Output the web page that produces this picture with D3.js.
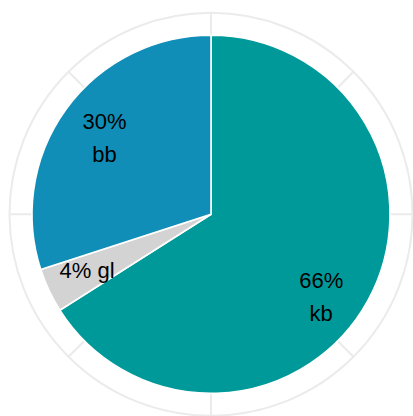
<!DOCTYPE html>
<html>
<head>
<meta charset="utf-8">
<script src="https://cdn.jsdelivr.net/npm/d3@7"></script>
<style>
  html, body { margin: 0; padding: 0; background: #ffffff; }
  svg { display: block; }
</style>
</head>
<body>
<svg id="chart" width="413" height="416"></svg>
<script>
// Data
const categories = ["kb", "gl", "bb"];
const shares = [66, 4, 30];
const colors = ["#009999", "#D3D3D3", "#108EB8"];
const gridBreaks = [0, 12.5, 25, 37.5, 50, 62.5, 75, 87.5]; // theta grid (percent)

const W = 413, H = 416;
const cx = 211, cy = 214.3;
const R = 179;
const gridR = 201.5;

const svg = d3.select("#chart");
const g = svg.append("g").attr("transform", `translate(${cx},${cy})`);

// angle scale for grid (percent -> radians)
const theta = d3.scaleLinear().domain([0, 100]).range([0, 2 * Math.PI]);

// grid: outer circle
g.append("circle")
  .attr("r", gridR)
  .attr("fill", "none")
  .attr("stroke", "#EBEBEB")
  .attr("stroke-width", 2);

// radial grid lines
g.selectAll("line.grid")
  .data(gridBreaks)
  .join("line")
  .attr("class", "grid")
  .attr("x1", 0).attr("y1", 0)
  .attr("x2", d => gridR * Math.sin(theta(d)))
  .attr("y2", d => -gridR * Math.cos(theta(d)))
  .attr("stroke", "#EBEBEB")
  .attr("stroke-width", 2);

// pie
const data = categories.map((c, i) => ({ cat: c, value: shares[i], color: colors[i] }));
const pie = d3.pie().value(d => d.value).sort(null);
const arcs = pie(data);
const arc = d3.arc().innerRadius(0).outerRadius(R);

g.selectAll("path.slice")
  .data(arcs)
  .join("path")
  .attr("class", "slice")
  .attr("d", arc)
  .attr("fill", d => d.data.color)
  .attr("stroke", "#ffffff")
  .attr("stroke-width", 1.6)
  .attr("stroke-linejoin", "miter");

// labels
const labelLayout = {  // label radius and angle nudge (degrees)
  kb: { r: 138, nudge: 8.2, twoLine: true },
  gl: { r: 136, nudge: 0.9, twoLine: false },
  bb: { r: 131, nudge: -0.4, twoLine: true }
};
const fontSize = 22;
const lineGap = 33;

arcs.forEach(a => {
  const L = labelLayout[a.data.cat];
  const mid = (a.startAngle + a.endAngle) / 2 + L.nudge * Math.PI / 180;
  const x = L.r * Math.sin(mid);
  const y = -L.r * Math.cos(mid);
  const pct = Math.round(a.data.value) + "%";
  const t = g.append("text")
    .attr("text-anchor", "middle")
    .attr("font-family", "'Liberation Sans', Arial, sans-serif")
    .attr("font-size", fontSize)
    .attr("fill", "#000000");
  if (L.twoLine) {
    t.append("tspan").attr("x", x).attr("y", y - lineGap / 2 + 7.5).text(pct);
    t.append("tspan").attr("x", x).attr("y", y + lineGap / 2 + 7.5).text(a.data.cat);
  } else {
    t.attr("x", x).attr("y", y + 7.5).text(pct + " " + a.data.cat);
  }
});
</script>
</body>
</html>
